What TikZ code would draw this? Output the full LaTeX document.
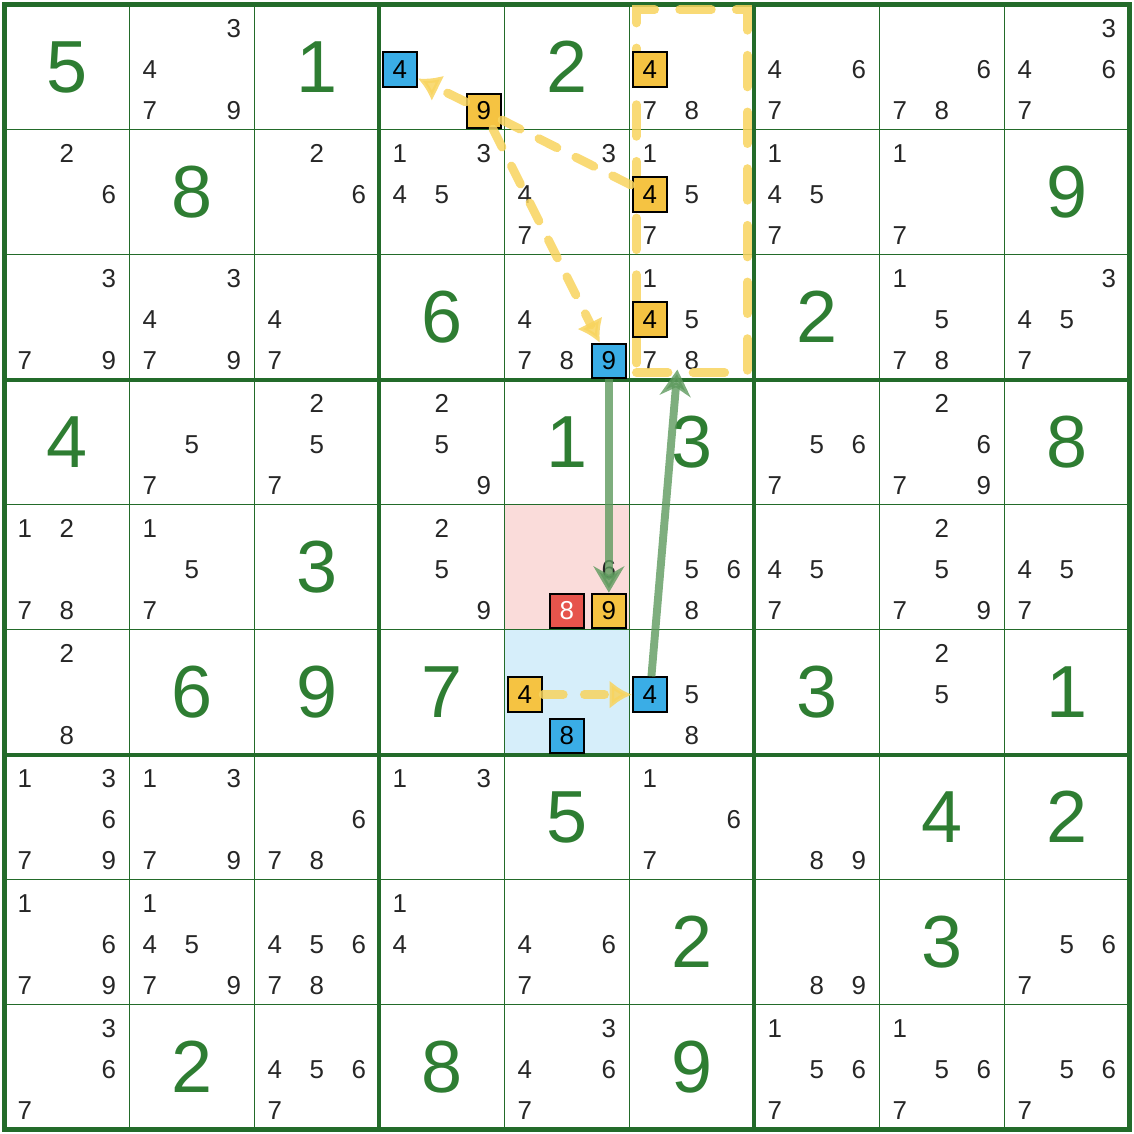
\documentclass[tikz,border=0pt]{standalone}
\usepackage{fontspec}
\setmainfont{Liberation Sans}
\usetikzlibrary{arrows.meta}
\definecolor{gridgreen}{HTML}{236B2A}
\definecolor{givengreen}{HTML}{2E7D32}
\definecolor{candblue}{HTML}{3AADE6}
\definecolor{candyellow}{HTML}{F5C342}
\definecolor{candred}{HTML}{E6544C}
\definecolor{bgpink}{HTML}{FADCDA}
\definecolor{bgblue}{HTML}{D6EEFA}
\definecolor{linkyellow}{HTML}{F8D45E}
\definecolor{linkgreen}{HTML}{5E9A5E}
% given digit: row, col, digit
\newcommand{\given}[3]{\node[given] (g#1#2) at (#2-0.5,9.5-#1) {#3};}
% pencil marks: row, col, list
\newcommand{\cands}[3]{%
  \foreach \dg in {#3}{%
    \pgfmathtruncatemacro{\ci}{mod(\dg-1,3)}%
    \pgfmathtruncatemacro{\ri}{floor((\dg-1)/3)}%
    \node[cand] (k#1#2\dg) at ({#2-0.836+0.336*\ci},{9.81-#1-0.33*\ri}) {\dg};
  }}
\begin{document}
\begin{tikzpicture}
  [x=1cm,y=1cm,
   given/.style={text=givengreen,font=\fontsize{16.8}{18}\selectfont,inner sep=0pt},
   cand/.style={text=black!85,font=\fontsize{5.9}{6}\selectfont,inner sep=0pt},
   hl/.style={draw=black,line width=0.45pt,minimum size=0.275cm,inner sep=0pt,
              font=\fontsize{5.9}{6}\selectfont},
   weak/.style={linkyellow,opacity=0.85,line width=2pt,line cap=round,
                dash pattern=on 4.6pt off 4.8pt},
   strong/.style={linkgreen,opacity=0.8,line width=1.8pt}]
\useasboundingbox (-0.035,-0.035) rectangle (9.037,9.037); % frame
\fill[bgpink] (4,4) rectangle (5,5);
\fill[bgblue] (4,3) rectangle (5,4);
\foreach \i in {0,...,9}
  \draw[gridgreen,line width=0.34pt] (\i,0) -- (\i,9) (0,\i) -- (9,\i);
\foreach \i in {3,6}
  \draw[gridgreen,line width=0.9pt] (\i,0) -- (\i,9) (0,\i) -- (9,\i);
\draw[gridgreen,line width=1.2pt] (0,0) rectangle (9,9);
%
\given{1}{1}{5} \given{1}{3}{1} \given{1}{5}{2}
\given{2}{2}{8} \given{2}{9}{9}
\given{3}{4}{6} \given{3}{7}{2}
\given{4}{1}{4} \given{4}{5}{1} \given{4}{6}{3} \given{4}{9}{8}
\given{5}{3}{3}
\given{6}{2}{6} \given{6}{3}{9} \given{6}{4}{7} \given{6}{7}{3} \given{6}{9}{1}
\given{7}{5}{5} \given{7}{8}{4} \given{7}{9}{2}
\given{8}{6}{2} \given{8}{8}{3}
\given{9}{2}{2} \given{9}{4}{8} \given{9}{6}{9}
%
\cands{1}{2}{3,4,7,9} \cands{1}{6}{7,8} \cands{1}{7}{4,6,7}
\cands{1}{8}{6,7,8} \cands{1}{9}{3,4,6,7}
\cands{2}{1}{2,6} \cands{2}{3}{2,6} \cands{2}{4}{1,3,4,5} \cands{2}{5}{3,4,7}
\cands{2}{6}{1,5,7} \cands{2}{7}{1,4,5,7} \cands{2}{8}{1,7}
\cands{3}{1}{3,7,9} \cands{3}{2}{3,4,7,9} \cands{3}{3}{4,7} \cands{3}{5}{4,7,8}
\cands{3}{6}{1,5,7,8} \cands{3}{8}{1,5,7,8} \cands{3}{9}{3,4,5,7}
\cands{4}{2}{5,7} \cands{4}{3}{2,5,7} \cands{4}{4}{2,5,9}
\cands{4}{7}{5,6,7} \cands{4}{8}{2,6,7,9}
\cands{5}{1}{1,2,7,8} \cands{5}{2}{1,5,7} \cands{5}{4}{2,5,9} \cands{5}{5}{6}
\cands{5}{6}{5,6,8} \cands{5}{7}{4,5,7} \cands{5}{8}{2,5,7,9} \cands{5}{9}{4,5,7}
\cands{6}{1}{2,8} \cands{6}{6}{5,8} \cands{6}{8}{2,5}
\cands{7}{1}{1,3,6,7,9} \cands{7}{2}{1,3,7,9} \cands{7}{3}{6,7,8} \cands{7}{4}{1,3}
\cands{7}{6}{1,6,7} \cands{7}{7}{8,9}
\cands{8}{1}{1,6,7,9} \cands{8}{2}{1,4,5,7,9} \cands{8}{3}{4,5,6,7,8} \cands{8}{4}{1,4}
\cands{8}{5}{4,6,7} \cands{8}{7}{8,9} \cands{8}{9}{5,6,7}
\cands{9}{1}{3,6,7} \cands{9}{3}{4,5,6,7} \cands{9}{5}{3,4,6,7}
\cands{9}{7}{1,5,6,7} \cands{9}{8}{1,5,6,7} \cands{9}{9}{5,6,7}
%
\node at (5.5,7.508) (grp) [draw=linkyellow,opacity=0.85,line width=2pt,line cap=round,
  dash pattern=on 7.2pt off 5.7pt,minimum width=0.888cm,minimum height=2.904cm] {};
\coordinate (grptip) at (5.384,6.08);
%
\node at (3.164,8.48)  (h144) [hl, fill=candblue]   {4};
\node at (3.836,8.15) (h149) [hl, fill=candyellow] {9};
\node at (5.164,8.48)  (h164) [hl, fill=candyellow] {4};
\node at (5.164,7.48)  (h264) [hl, fill=candyellow] {4};
\node at (5.164,6.48)  (h364) [hl, fill=candyellow] {4};
\node at (4.836,6.15) (h359) [hl, fill=candblue]   {9};
\node at (4.5,4.15)   (h558) [hl, fill=candred, text=white] {8};
\node at (4.836,4.15) (h559) [hl, fill=candyellow] {9};
\node at (4.164,3.48)  (h654) [hl, fill=candyellow] {4};
\node at (4.5,3.15)   (h658) [hl, fill=candblue]   {8};
\node at (5.164,3.48)  (h664) [hl, fill=candblue]   {4};
%
\draw [weak, -{Latex[length=5pt,width=6.5pt]}] (h149) -- (h144);
\draw [weak] (h149) -- (h264);
\draw [weak, -{Latex[length=5pt,width=6.5pt]}] (h149) -- (h359);
\draw [weak, -{Latex[length=5pt,width=6.5pt]}] (h654) -- (h664);
%
\draw [strong, -{Stealth[length=6pt,width=7pt]}] (h359) -- (h559);
\draw [strong, -{Stealth[length=6pt,width=7pt]}] (h664) -- (grptip);
\end{tikzpicture}
\end{document}
